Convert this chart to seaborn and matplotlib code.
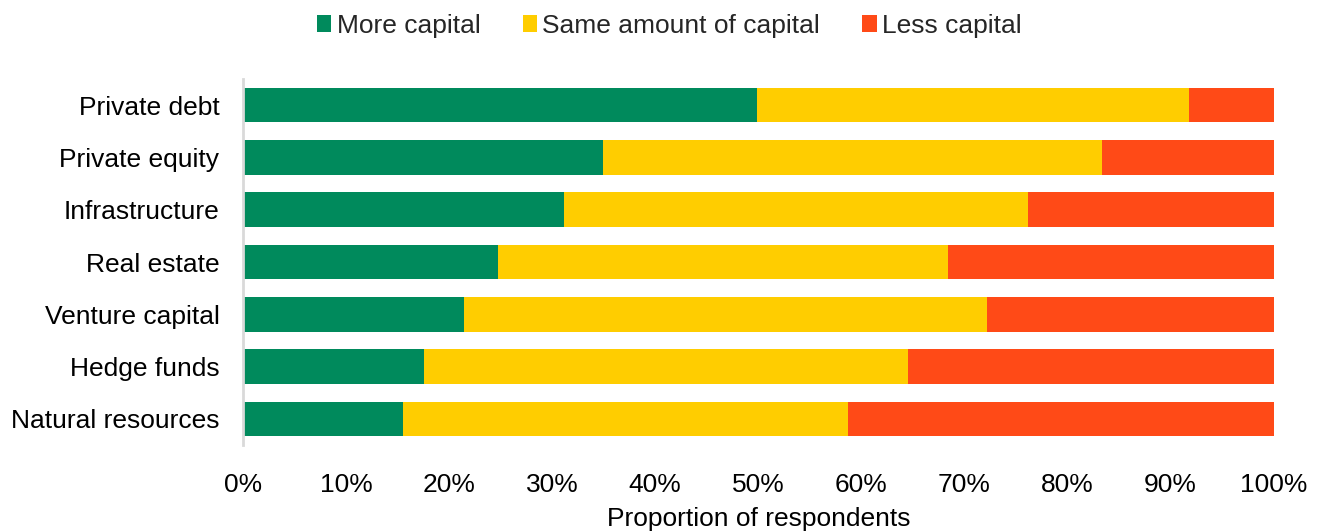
import matplotlib
matplotlib.use("Agg")
import matplotlib.pyplot as plt
from matplotlib.patches import Patch
from matplotlib.ticker import PercentFormatter
import seaborn as sns
import pandas as pd
import numpy as np

# Survey results: share of respondents by asset class (%)
asset_classes = ["Private debt", "Private equity", "Infrastructure", "Real estate",
                 "Venture capital", "Hedge funds", "Natural resources"]
more_capital = [49.9, 34.9, 31.1, 24.7, 21.4, 17.6, 15.5]
same_capital = [41.9, 48.5, 45.1, 43.7, 50.8, 46.9, 43.2]
less_capital = [8.2, 16.6, 23.8, 31.6, 27.8, 35.5, 41.3]

series_names = ["More capital", "Same amount of capital", "Less capital"]
series_colors = ["#008A5C", "#FFCD00", "#FF4A17"]
x_ticks = list(range(0, 101, 10))

sns.set_theme(style="white")
plt.rcParams["font.family"] = ["Liberation Sans", "DejaVu Sans"]

df = pd.DataFrame({
    "asset": asset_classes,
    "more": more_capital,
    "same": same_capital,
    "less": less_capital,
})
# cumulative right edges for stacking
df["end_more"] = df["more"]
df["end_same"] = df["more"] + df["same"]
df["end_less"] = df["more"] + df["same"] + df["less"]

fig = plt.figure(figsize=(13.2, 5.32), dpi=100)
ax = fig.add_axes([0.1841, 0.1635, 0.7807, 0.688])

# draw from the longest segment back to the shortest so each layer shows
for col, color in zip(["end_less", "end_same", "end_more"], series_colors[::-1]):
    sns.barplot(data=df, x=col, y="asset", orient="h", color=color,
                width=0.66, saturation=1, ax=ax, linewidth=0)

ax.set_xlim(0, 100)
ax.set_ylim(6.5, -0.5)
ax.set_xticks(x_ticks)
ax.xaxis.set_major_formatter(PercentFormatter(decimals=0))
ax.set_xlabel("Proportion of respondents", fontsize=19, labelpad=7, color="black")
ax.set_ylabel("")
ax.tick_params(axis="x", length=0, pad=20, labelsize=19, labelcolor="black")
ax.tick_params(axis="y", length=0, pad=17, labelsize=19, labelcolor="black")

for side in ["top", "right", "bottom"]:
    ax.spines[side].set_visible(False)
ax.spines["left"].set_color("#D9D9D9")
ax.spines["left"].set_linewidth(2)

handles = [Patch(facecolor=c, edgecolor="none", label=n)
           for n, c in zip(series_names, series_colors)]
fig.legend(handles=handles, loc="center", bbox_to_anchor=(0.507, 0.951), ncol=3,
           frameon=False, fontsize=19, handlelength=0.55, handleheight=0.62,
           handletextpad=0.2, columnspacing=1.6)

fig.savefig("out.png", dpi=100)
